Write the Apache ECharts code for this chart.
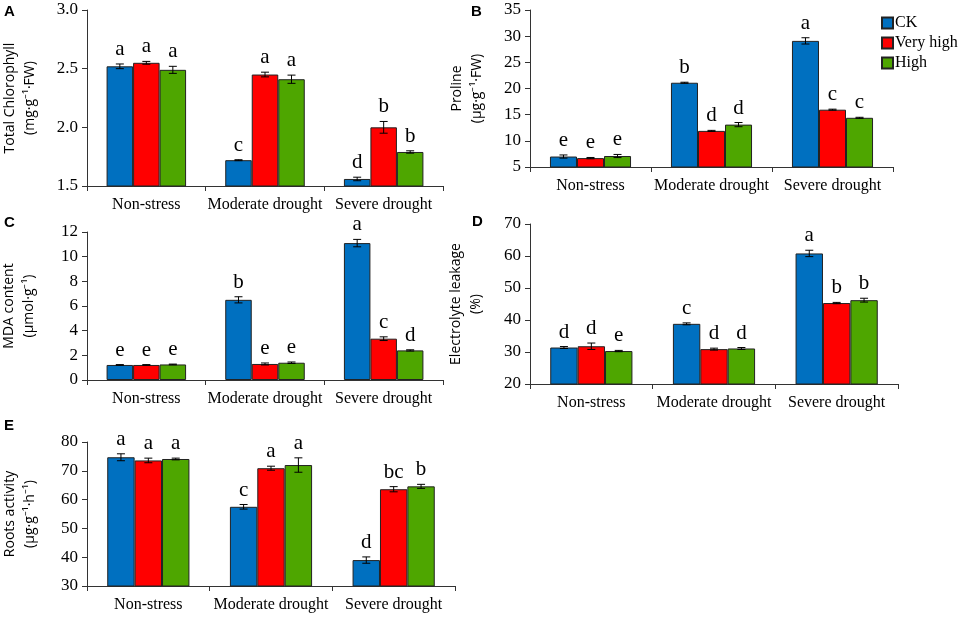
<!DOCTYPE html>
<html>
<head>
<meta charset="utf-8">
<script src="https://cdn.jsdelivr.net/npm/echarts@6/dist/echarts.min.js"></script>
<style>
  html, body { margin: 0; padding: 0; background: #fff; }
  #main { width: 964px; height: 617px; }
</style>
</head>
<body>
<div id="main"></div>
<script>
var groups = ['Non-stress', 'Moderate drought', 'Severe drought'];
var treatments = ['CK', 'Very high', 'High'];
var colors = ['#0070C0', '#FF0000', '#4EA600'];

// rows: CK, Very high, High ; columns: groups
var chlMean = [[2.52, 1.72, 1.56], [2.55, 2.45, 2.00], [2.49, 2.41, 1.79]];
var chlErr = [[0.02, 0.004, 0.015], [0.012, 0.02, 0.05], [0.03, 0.035, 0.01]];
var chlSig = [['a', 'c', 'd'], ['a', 'a', 'b'], ['a', 'a', 'b']];

var proMean = [[7.0, 21.1, 29.1], [6.7, 11.9, 15.95], [7.1, 13.1, 14.4]];
var proErr = [[0.3, 0.1, 0.6], [0.12, 0.1, 0.1], [0.3, 0.4, 0.1]];
var proSig = [['e', 'b', 'a'], ['e', 'd', 'c'], ['e', 'd', 'c']];

var mdaMean = [[1.22, 6.5, 11.1], [1.22, 1.3, 3.35], [1.26, 1.4, 2.4]];
var mdaErr = [[0.03, 0.25, 0.3], [0.03, 0.08, 0.15], [0.03, 0.06, 0.05]];
var mdaSig = [['e', 'b', 'a'], ['e', 'e', 'c'], ['e', 'e', 'd']];

var elMean = [[31.4, 38.8, 60.8], [31.8, 30.9, 45.3], [30.3, 31.1, 46.2]];
var elErr = [[0.3, 0.3, 1.0], [1.0, 0.3, 0.2], [0.2, 0.3, 0.6]];
var elSig = [['d', 'c', 'a'], ['d', 'd', 'b'], ['e', 'd', 'b']];

var raMean = [[74.7, 57.5, 39.0], [73.6, 70.9, 63.6], [74.1, 72.0, 64.6]];
var raErr = [[1.2, 0.8, 1.1], [0.8, 0.7, 0.9], [0.3, 2.5, 0.7]];
var raSig = [['a', 'c', 'd'], ['a', 'a', 'bc'], ['a', 'a', 'b']];

var panels = [
  { mean: chlMean, err: chlErr, sig: chlSig, min: 1.5, max: 3.0, step: 0.5, dec: 1,
    name: 'Total Chlorophyll\n(mg·g⁻¹·FW)', gap: 47,
    grid: { left: 87, top: 10, width: 356, height: 176 } },
  { mean: proMean, err: proErr, sig: proSig, min: 5, max: 35, step: 5, dec: 0,
    name: 'Proline\n(µg·g⁻¹·FW)', gap: 43,
    grid: { left: 530, top: 10, width: 363, height: 157 } },
  { mean: mdaMean, err: mdaErr, sig: mdaSig, min: 0, max: 12, step: 2, dec: 0,
    name: 'MDA content\n(µmol·g⁻¹)', gap: 48,
    grid: { left: 87, top: 232, width: 356, height: 148 } },
  { mean: elMean, err: elErr, sig: elSig, min: 20, max: 70, step: 10, dec: 0,
    name: 'Electrolyte leakage\n(%)', gap: 44,
    grid: { left: 530, top: 224, width: 368, height: 160 } },
  { mean: raMean, err: raErr, sig: raSig, min: 30, max: 80, step: 10, dec: 0,
    name: 'Roots activity\n(µg·g⁻¹·h⁻¹)', gap: 47,
    grid: { left: 87, top: 442, width: 368, height: 144 } }
];
var panelTags = [['A', 4, 4], ['B', 471, 4], ['C', 4, 215], ['D', 472, 214], ['E', 4, 418]];

var catGap = 0.33;
var serif = 'Liberation Serif';
var sans = 'Open Sans';

var grids = [], xAxes = [], yAxes = [], series = [];

panels.forEach(function (p, gi) {
  grids.push(Object.assign({ outerBoundsMode: 'none', containLabel: false }, p.grid));
  xAxes.push({
    type: 'category', gridIndex: gi, data: groups,
    axisLine: { lineStyle: { color: '#333', width: 1 } },
    axisTick: { show: true, length: 5, lineStyle: { color: '#333' } },
    axisLabel: { color: '#000', fontFamily: serif, fontSize: 16, margin: 11, interval: 0 }
  });
  yAxes.push({
    type: 'value', gridIndex: gi, min: p.min, max: p.max, interval: p.step,
    name: p.name, nameLocation: 'middle', nameRotate: 90, nameGap: p.gap,
    nameTextStyle: { color: '#000', fontFamily: sans, fontSize: 14, lineHeight: 20 },
    axisLine: { show: true, lineStyle: { color: '#333', width: 1 } },
    axisTick: { show: true, length: 5, lineStyle: { color: '#333' } },
    splitLine: { show: false },
    axisLabel: {
      color: '#000', fontFamily: serif, fontSize: 17, margin: 9,
      formatter: function (v) { return v.toFixed(p.dec); }
    }
  });
  treatments.forEach(function (t, si) {
    series.push({
      type: 'bar', name: t, xAxisIndex: gi, yAxisIndex: gi,
      data: p.mean[si], barGap: '0%', barCategoryGap: (catGap * 100) + '%',
      itemStyle: { color: colors[si], borderColor: '#222', borderWidth: 1 }
    });
  });
  treatments.forEach(function (t, si) {
    var letters = p.sig[si];
    series.push({
      type: 'custom', name: 'err-' + t, xAxisIndex: gi, yAxisIndex: gi, z: 10,
      data: p.mean[si].map(function (m, i) { return [i, m, p.err[si][i]]; }),
      renderItem: function (params, api) {
        var band = api.size([1, 0])[0];
        var bw = band * (1 - catGap) / 3;
        var i = api.value(0), m = api.value(1), e = api.value(2);
        var cx = api.coord([i, m])[0] + (si - 1) * bw;
        var yt = api.coord([i, m + e])[1];
        var yb = api.coord([i, m - e])[1];
        var cap = 4;
        var ls = { stroke: '#000', lineWidth: 1 };
        return {
          type: 'group',
          children: [
            { type: 'line', shape: { x1: cx, y1: yt, x2: cx, y2: yb }, style: ls },
            { type: 'line', shape: { x1: cx - cap, y1: yt, x2: cx + cap, y2: yt }, style: ls },
            { type: 'line', shape: { x1: cx - cap, y1: yb, x2: cx + cap, y2: yb }, style: ls },
            { type: 'text', x: cx, y: yt - 4,
              style: { text: letters[params.dataIndex], fill: '#000', fontFamily: serif,
                       fontSize: 21, align: 'center', verticalAlign: 'bottom' } }
          ]
        };
      }
    });
  });
});

var myChart = echarts.init(document.getElementById('main'));

var option = {
  animation: false,
  backgroundColor: '#fff',
  grid: grids,
  xAxis: xAxes,
  yAxis: yAxes,
  legend: {
    data: treatments, orient: 'vertical', left: 881, top: 15,
    icon: 'rect', itemWidth: 11, itemHeight: 11, itemGap: 4, padding: 0,
    textStyle: { color: '#000', fontFamily: serif, fontSize: 16, padding: [0, 0, 0, -3] },
    selectedMode: false
  },
  graphic: panelTags.map(function (t) {
    return { type: 'text', left: t[1], top: t[2],
             style: { text: t[0], fill: '#000', font: 'bold 15px "Liberation Sans"' } };
  }),
  series: series
};
myChart.setOption(option);
</script>
</body>
</html>
